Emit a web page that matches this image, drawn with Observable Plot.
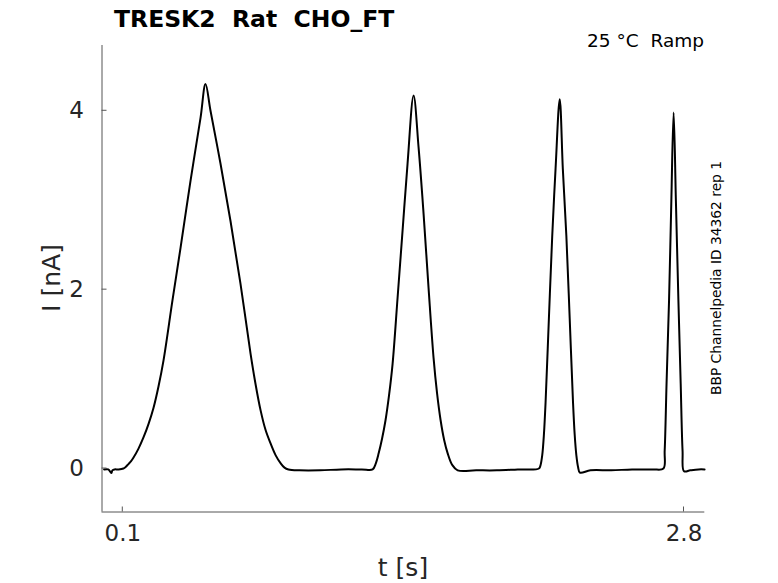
<!DOCTYPE html>
<html>
<head>
<meta charset="utf-8">
<script src="https://cdn.jsdelivr.net/npm/d3@7"></script>
<script src="https://cdn.jsdelivr.net/npm/@observablehq/plot@0.6"></script>
<style>
  html, body { margin: 0; padding: 0; background: #fff; }
  #chart { position: relative; width: 778px; height: 583px; }
  svg text { font-family: "DejaVu Sans", sans-serif; }
</style>
</head>
<body>
<div id="chart"></div>
<script>
// Time (s) and current (nA)
const tValues = [
  0.010, 0.030, 0.045, 0.050, 0.060, 0.080, 0.103,
  0.115, 0.127, 0.139, 0.151, 0.175, 0.200, 0.224, 0.248, 0.272, 0.296, 0.339, 0.378, 0.426, 0.474, 0.498,
  0.522, 0.570, 0.618, 0.666, 0.715, 0.739, 0.763, 0.787, 0.811, 0.835, 0.859, 0.878, 0.897,
  0.950, 1.050, 1.150, 1.250, 1.302,
  1.316, 1.331, 1.347, 1.364, 1.381, 1.398, 1.422, 1.446, 1.470, 1.499,
  1.523, 1.547, 1.571, 1.595, 1.612, 1.629, 1.646, 1.663, 1.685, 1.711,
  1.800, 1.900, 2.000, 2.102,
  2.110, 2.118, 2.126, 2.134, 2.150, 2.166, 2.182, 2.202,
  2.217, 2.234, 2.250, 2.266, 2.274, 2.282, 2.290, 2.299,
  2.350, 2.450, 2.550, 2.650, 2.701,
  2.707, 2.716, 2.728, 2.739, 2.750,
  2.761, 2.773, 2.784, 2.793, 2.800,
  2.830, 2.870, 2.899
];
const iValues = [
  -0.01, -0.01, -0.05, -0.02, -0.01, -0.01, 0.00,
  0.02, 0.05, 0.08, 0.12, 0.22, 0.35, 0.50, 0.68, 0.92, 1.21, 1.88, 2.47, 3.22, 3.92, 4.30,
  4.00, 3.41, 2.77, 2.07, 1.28, 0.94, 0.65, 0.43, 0.28, 0.15, 0.06, 0.01, -0.01,
  -0.02, -0.02, -0.01, -0.01, -0.01,
  0.05, 0.17, 0.33, 0.54, 0.82, 1.17, 1.91, 2.66, 3.41, 4.17,
  3.59, 2.85, 2.02, 1.24, 0.84, 0.54, 0.32, 0.17, 0.04, -0.02,
  -0.02, -0.02, -0.01, 0.00,
  0.04, 0.15, 0.38, 0.74, 1.68, 2.60, 3.35, 4.13,
  3.35, 2.60, 1.68, 0.74, 0.38, 0.15, 0.02, -0.045,
  -0.02, -0.02, -0.01, -0.01, 0.00,
  0.20, 0.95, 1.88, 2.99, 3.98,
  2.99, 1.88, 0.95, 0.20, -0.03,
  -0.02, -0.01, -0.01
];
const xTicks = [0.1, 2.8];
const yTicks = [0, 2, 4];
const xDomain = [0, 2.9];
const yDomain = [-0.486, 4.73];

const titleText = "TRESK2  Rat  CHO_FT";
const conditionText = "25 °C  Ramp";
const sideText = "BBP Channelpedia ID 34362 rep 1";
const xLabel = "t [s]";
const yLabel = "I [nA]";

const trace = tValues.map((t, i) => ({t, I: iValues[i]}));

const plot = Plot.plot({
  width: 778,
  height: 583,
  marginLeft: 101.5,
  marginRight: 73.7,
  marginTop: 45,
  marginBottom: 71.5,
  style: {fontFamily: "DejaVu Sans, sans-serif", background: "#fff"},
  x: {domain: xDomain, ticks: xTicks, tickFormat: d => String(d)},
  y: {domain: yDomain, ticks: yTicks, tickFormat: d => String(d)},
  marks: [
    Plot.ruleX([xDomain[0]], {stroke: "#555", strokeWidth: 1}),
    Plot.ruleY([yDomain[0]], {stroke: "#555", strokeWidth: 1}),
    Plot.axisX({ticks: xTicks, tickFormat: d => String(d), tickSize: 0, tickPadding: 13, fontSize: 23, color: "#262626", label: null}),
    Plot.axisY({ticks: yTicks, tickFormat: d => String(d), tickSize: 0, tickPadding: 18, fontSize: 23, color: "#262626", label: null}),
    Plot.line(trace, {x: "t", y: "I", stroke: "#000", strokeWidth: 2, curve: "catmull-rom"})
  ]
});

document.getElementById("chart").appendChild(plot);
const svg = d3.select(plot);
const sx = plot.scale("x"), sy = plot.scale("y");
const x0 = sx.apply(xDomain[0]), y0 = sy.apply(yDomain[0]);

// inward tick marks positioned through the plot's own scales
const tickG = svg.append("g").attr("stroke", "#555").attr("stroke-width", 1);
xTicks.forEach(v => {
  const px = sx.apply(v);
  tickG.append("line").attr("x1", px).attr("x2", px).attr("y1", y0).attr("y2", y0 - 5);
});
yTicks.forEach(v => {
  const py = sy.apply(v);
  tickG.append("line").attr("x1", x0).attr("x2", x0 + 5).attr("y1", py).attr("y2", py);
});

svg.append("text").text(titleText)
  .attr("x", 114).attr("y", 27).attr("text-anchor", "start")
  .attr("font-size", 23.5).attr("font-weight", "bold").attr("fill", "#000");

svg.append("text").text(conditionText)
  .attr("x", 704).attr("y", 47).attr("text-anchor", "end")
  .attr("font-size", 18.5).attr("fill", "#000");

svg.append("text").text(sideText)
  .attr("transform", "translate(721,278) rotate(-90)")
  .attr("text-anchor", "middle")
  .attr("font-size", 13.8).attr("fill", "#000");

svg.append("text").text(xLabel)
  .attr("x", 403).attr("y", 576).attr("text-anchor", "middle")
  .attr("font-size", 25).attr("fill", "#262626");

svg.append("text").text(yLabel)
  .attr("transform", "translate(60,278) rotate(-90)")
  .attr("text-anchor", "middle")
  .attr("font-size", 25).attr("fill", "#262626");
</script>
</body>
</html>
